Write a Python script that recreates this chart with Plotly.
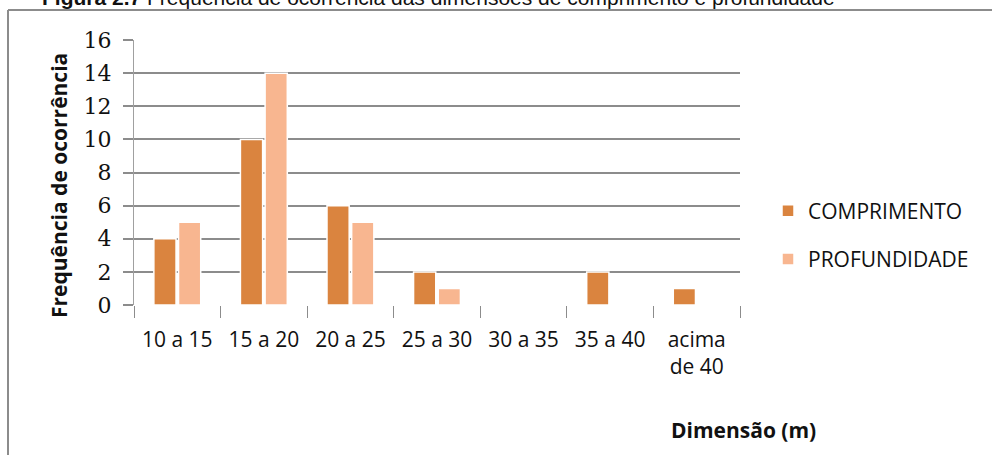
import plotly.graph_objects as go

categories = ["10 a 15", "15 a 20", "20 a 25", "25 a 30", "30 a 35", "35 a 40", "acima<br>de 40"]
comprimento = [4, 10, 6, 2, 0, 2, 1]
profundidade = [5, 14, 5, 1, 0, 0, 0]
y_ticks = [0, 2, 4, 6, 8, 10, 12, 14, 16]

C1 = "#DA843F"
C2 = "#F8B690"
GRID = "#8C8C8C"

fig = go.Figure()
fig.add_trace(go.Bar(x=categories, y=comprimento, name="COMPRIMENTO",
                     marker=dict(color=C1, line=dict(color="white", width=1.5)),
                     legendgroup="a"))
fig.add_trace(go.Bar(x=categories, y=profundidade, name="PROFUNDIDADE",
                     marker=dict(color=C2, line=dict(color="white", width=1.5)),
                     legendgroup="b"))

L, R, T, B = 134, 740, 40, 305
W, H = 992, 455
pw, ph = R - L, B - T

def px(x):
    return (x - L) / pw

def py(y):
    return (B - y) / ph

fig.update_layout(
    width=W, height=H,
    margin=dict(l=L, r=W - R, t=T, b=H - B, pad=0),
    paper_bgcolor="white", plot_bgcolor="white",
    barmode="group", bargap=0.43, bargroupgap=0.1,
    showlegend=True,
    legend=dict(x=px(768), y=py(235), xanchor="left", yanchor="middle",
                font=dict(family="Open Sans", size=21, color="#111"),
                traceorder="grouped", tracegroupgap=18, itemwidth=30,
                bgcolor="rgba(0,0,0,0)"),
    xaxis=dict(type="category", tickson="boundaries", ticks="outside", ticklen=12,
               tickcolor=GRID, tickwidth=1, showgrid=False, showline=False,
               zeroline=False, ticklabelstandoff=20,
               tickfont=dict(family="Open Sans", size=21, color="#111")),
    yaxis=dict(range=[0, 16], tickvals=y_ticks, ticks="outside", ticklen=10,
               tickcolor=GRID, tickwidth=1.5, showgrid=True, gridcolor=GRID, gridwidth=1.5,
               showline=True, linecolor="#A0A0A0", linewidth=1, zeroline=False,
               tickfont=dict(family="DejaVu Serif", size=22, color="#111"),
               ticklabelstandoff=7),
)

# y axis title
fig.add_annotation(text="<b>Frequência de ocorrência</b>", xref="paper", yref="paper",
                   x=px(59), y=py(186), textangle=-90, showarrow=False,
                   font=dict(family="Open Sans", size=21, color="#111"),
                   xanchor="center", yanchor="middle")
# x axis title
fig.add_annotation(text="<b>Dimensão (m)</b>", xref="paper", yref="paper",
                   x=px(743), y=py(430), showarrow=False,
                   font=dict(family="Open Sans", size=21, color="#111"),
                   xanchor="center", yanchor="middle")
# caption (cut off at the top, as in the source page)
fig.add_annotation(text="<b>Figura 2.7</b> Frequência de ocorrência das dimensões de comprimento e profundidade",
                   xref="paper", yref="paper", x=px(40), y=py(-3), showarrow=False,
                   font=dict(family="Liberation Sans", size=21, color="#111"),
                   xanchor="left", yanchor="middle")

# frame lines
fig.add_shape(type="line", xref="paper", yref="paper", x0=px(8), x1=px(8), y0=py(10), y1=py(460),
              line=dict(color="#8C8C8C", width=2))
fig.add_shape(type="line", xref="paper", yref="paper", x0=px(8), x1=px(1000), y0=py(10), y1=py(10),
              line=dict(color="#8C8C8C", width=2))

fig.write_html("out.html")
